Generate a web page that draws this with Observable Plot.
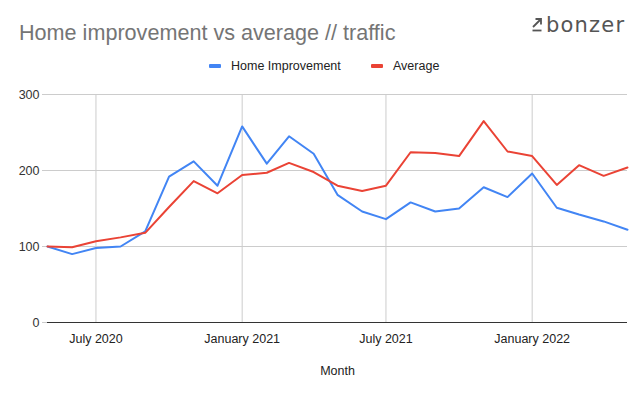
<!DOCTYPE html>
<html>
<head>
<meta charset="utf-8">
<script src="https://cdn.jsdelivr.net/npm/d3@7"></script>
<script src="https://cdn.jsdelivr.net/npm/@observablehq/plot@0.6"></script>
<style>
  html, body { margin: 0; padding: 0; background: #fff; }
  body { width: 644px; height: 396px; overflow: hidden; font-family: "Liberation Sans", Arial, sans-serif; }
  #wrap { position: relative; width: 644px; height: 396px; }
  #chart, #overlay { position: absolute; left: 0; top: 0; }
</style>
</head>
<body>
<div id="wrap">
  <div id="chart"></div>
  <svg id="overlay" width="644" height="90" font-family="Liberation Sans, Arial, sans-serif">
    <text x="19" y="40" font-size="21.6" fill="#757575">Home improvement vs average // traffic</text>
    <g stroke="#555" stroke-width="1.8" fill="none">
      <path d="M533 27 L541 19 M535.5 19 H541 V24.5"/>
      <path d="M532.5 30.5 H541.5"/>
    </g>
    <text x="546" y="31.5" font-size="21" fill="#555" font-family="DejaVu Sans, sans-serif" letter-spacing="1.2">bonzer</text>
    <g id="legend" font-size="12.5" fill="#222"></g>
  </svg>
</div>
<script>
const months = ["2020-05","2020-06","2020-07","2020-08","2020-09","2020-10","2020-11","2020-12",
  "2021-01","2021-02","2021-03","2021-04","2021-05","2021-06","2021-07","2021-08","2021-09","2021-10","2021-11","2021-12",
  "2022-01","2022-02","2022-03","2022-04","2022-05"];
const homeImprovement = [100, 90, 98, 100, 120, 192, 212, 180, 258, 209, 245, 222, 168, 146, 136, 158, 146, 150, 178, 165, 196, 151, 142, 133, 122];
const average = [100, 99, 107, 112, 118, 152, 186, 170, 194, 197, 210, 198, 180, 173, 180, 224, 223, 219, 265, 225, 219, 181, 207, 193, 204];
const seriesNames = ["Home Improvement", "Average"];
const seriesColors = ["#4285F4", "#EA4335"];
const yTicks = [0, 100, 200, 300];
const xTicks = ["2020-07", "2021-01", "2021-07", "2022-01"];

const parse = d3.utcParse("%Y-%m");
const data = [];
months.forEach((m, i) => {
  data.push({date: parse(m), value: homeImprovement[i], series: seriesNames[0]});
  data.push({date: parse(m), value: average[i], series: seriesNames[1]});
});
const xTickDates = xTicks.map(parse);

// legend
const ns = "http://www.w3.org/2000/svg";
const lg = document.getElementById("legend");
const legendX = [209, 371];
seriesNames.forEach((n, i) => {
  const r = document.createElementNS(ns, "rect");
  r.setAttribute("x", legendX[i]); r.setAttribute("y", 64); r.setAttribute("width", 12); r.setAttribute("height", 4);
  r.setAttribute("rx", 1); r.setAttribute("fill", seriesColors[i]);
  lg.appendChild(r);
  const t = document.createElementNS(ns, "text");
  t.setAttribute("x", legendX[i] + 22); t.setAttribute("y", 70);
  t.textContent = n;
  lg.appendChild(t);
});

const chart = Plot.plot({
  width: 644,
  height: 396,
  marginLeft: 47,
  marginRight: 17,
  marginTop: 94,
  marginBottom: 74,
  style: {fontFamily: "Liberation Sans, Arial, sans-serif", fontSize: "12.5px", color: "#222", background: "transparent"},
  x: {type: "utc", domain: [parse(months[0]), parse(months[months.length - 1])]},
  y: {domain: [0, 300]},
  color: {domain: seriesNames, range: seriesColors},
  marks: [
    Plot.ruleX(xTickDates, {stroke: "#cccccc", strokeWidth: 1}),
    Plot.ruleY(yTicks.filter(d => d > 0), {stroke: "#cccccc", strokeWidth: 1}),
    Plot.axisY({ticks: yTicks, tickSize: 5, tickPadding: 3, stroke: "#cccccc", fill: "#333", label: null}),
    Plot.axisX({ticks: xTickDates, tickFormat: d3.utcFormat("%B %Y"), tickSize: 0, tickPadding: 12, fill: "#222",
      label: "Month", labelAnchor: "center", labelArrow: "none", labelOffset: 52}),
    Plot.ruleY([0], {stroke: "#333333", strokeWidth: 1}),
    Plot.line(data, {x: "date", y: "value", z: "series", stroke: "series", strokeWidth: 2, curve: "linear"})
  ]
});
document.getElementById("chart").appendChild(chart);
</script>
</body>
</html>
